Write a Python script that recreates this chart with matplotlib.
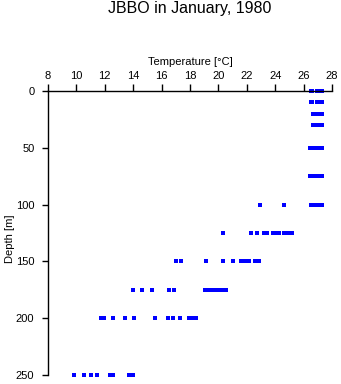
import numpy as np
import matplotlib.pyplot as plt

plt.rcParams['font.family'] = ['Liberation Sans', 'DejaVu Sans']

# depth levels [m] and the temperatures [°C] read at each level
depths = [0, 10, 20, 30, 50, 75, 100, 125, 150, 175, 200, 250]
t_0 = [26.5, 26.6, 26.95, 27.05, 27.15, 27.25, 27.3]
t_10 = [26.5, 26.6, 26.95, 27.05, 27.15, 27.25, 27.3]
t_20 = [26.65, 26.75, 26.85, 26.95, 27.05, 27.15, 27.25, 27.3]
t_30 = [26.65, 26.75, 26.85, 26.95, 27.05, 27.15, 27.25, 27.3]
t_50 = [26.45, 26.55, 26.65, 26.75, 26.85, 26.95, 27.05, 27.15, 27.25, 27.3]
t_75 = [26.45, 26.55, 26.7, 26.85, 26.95, 27.05, 27.15, 27.25, 27.3]
t_100 = [22.9, 24.6, 26.5, 26.6, 26.7, 26.8, 26.9, 27.0, 27.1, 27.2, 27.3]
t_125 = [20.3, 22.3, 22.75, 23.2, 23.4, 23.85, 24.0, 24.15, 24.3, 24.6, 24.85, 25.0, 25.15]
t_150 = [17.0, 17.4, 19.1, 20.35, 21.05, 21.6, 21.75, 21.9, 22.05, 22.15, 22.55, 22.7, 22.85]
t_175 = [14.0, 14.6, 15.3, 16.55, 16.85, 19.05, 19.2, 19.35, 19.5, 19.65, 19.8,
         19.95, 20.1, 20.25, 20.4, 20.55]
t_200 = [11.75, 11.95, 12.6, 13.45, 14.05, 15.5, 16.45, 16.8, 17.3, 17.95, 18.1, 18.25, 18.4]
t_250 = [9.8, 10.55, 11.0, 11.45, 12.4, 12.55, 13.7, 13.85, 14.0]
temps = [t_0, t_10, t_20, t_30, t_50, t_75, t_100, t_125, t_150, t_175, t_200, t_250]

x_ticks = [8, 10, 12, 14, 16, 18, 20, 22, 24, 26, 28]
y_ticks = [0, 50, 100, 150, 200, 250]

fig = plt.figure(figsize=(3.41, 3.84), dpi=100)
ax = fig.add_axes([48 / 341, 1 - 375 / 384, 284 / 341, 284 / 384])

for d, tt in zip(depths, temps):
    ax.scatter(tt, [d] * len(tt), s=5, marker='s', color='#0000ff',
               linewidths=0, clip_on=False)

ax.set_xlim(8, 28)
ax.set_ylim(250, 0)
ax.xaxis.tick_top()
ax.xaxis.set_label_position('top')
ax.set_xticks(x_ticks)
ax.set_yticks(y_ticks)
ax.spines['right'].set_visible(False)
ax.spines['bottom'].set_visible(False)
for s in ['top', 'left']:
    ax.spines[s].set_linewidth(1.0)
ax.tick_params(axis='x', length=5, width=1.0, pad=2.5, labelsize=8)
ax.tick_params(axis='y', length=4.3, width=1.0, pad=5.5, labelsize=8)
ax.set_xlabel('Temperature [°C]', fontsize=8, labelpad=4)
ax.set_ylabel('Depth [m]', fontsize=8)
ax.yaxis.set_label_coords(-0.115, 0.48)

fig.text(190 / 341, 1 - 9 / 384, 'JBBO in January, 1980', ha='center', va='center', fontsize=11.5)

plt.savefig('out.png', dpi=100)
